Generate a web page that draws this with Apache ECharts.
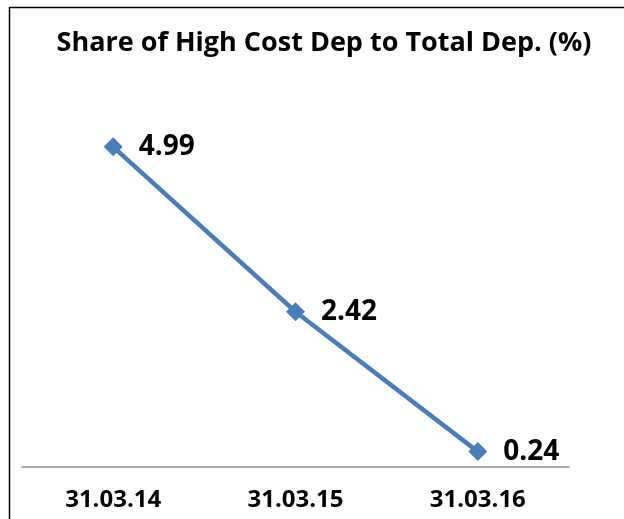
<!DOCTYPE html>
<html>
<head>
<meta charset="utf-8">
<script src="https://cdn.jsdelivr.net/npm/echarts@6/dist/echarts.min.js"></script>
<style>
  html, body { margin: 0; padding: 0; background: #ffffff; }
  #main { width: 624px; height: 519px; }
</style>
</head>
<body>
<div id="main"></div>
<script>
// 数据
var dates = ["31.03.14", "31.03.15", "31.03.16"];
var shares = [4.99, 2.42, 0.24];

var myChart = echarts.init(document.getElementById("main"));
var option = {
  backgroundColor: "#ffffff",
  title: {
    text: "Share of High Cost Dep to Total Dep. (%)",
    left: 319,
    textAlign: "center",
    top: 25,
    textStyle: {
      fontFamily: "Open Sans",
      fontWeight: "bold",
      fontSize: 27,
      color: "#000000",
    },
  },
  grid: {
    left: 22,
    right: 55,
    top: 82,
    bottom: 52,
  },
  xAxis: {
    type: "category",
    data: dates,
    boundaryGap: true,
    axisLine: { lineStyle: { color: "#8c8c8c", width: 1.5 } },
    axisTick: { show: false },
    axisLabel: {
      margin: 21,
      fontFamily: "Open Sans",
      fontWeight: "bold",
      fontSize: 24,
      color: "#000000",
    },
  },
  yAxis: {
    type: "value",
    min: 0,
    max: 6,
    show: false,
    splitLine: { show: false },
  },
  series: [
    {
      type: "line",
      data: shares,
      symbol: "diamond",
      symbolSize: 19,
      lineStyle: { color: "#4a7ebb", width: 4.5 },
      itemStyle: { color: "#4a7ebb" },
      label: {
        show: true,
        position: "right",
        distance: 16,
        fontFamily: "Open Sans",
        fontWeight: "bold",
        fontSize: 28,
        color: "#000000",
      },
    },
  ],
  graphic: [
    {
      type: "polyline",
      shape: { points: [[9.5, 519], [9.5, 7.5], [624, 7.5]] },
      style: { stroke: "#000000", lineWidth: 1.5, fill: null },
    },
  ],
};
myChart.setOption(option);
</script>
</body>
</html>
